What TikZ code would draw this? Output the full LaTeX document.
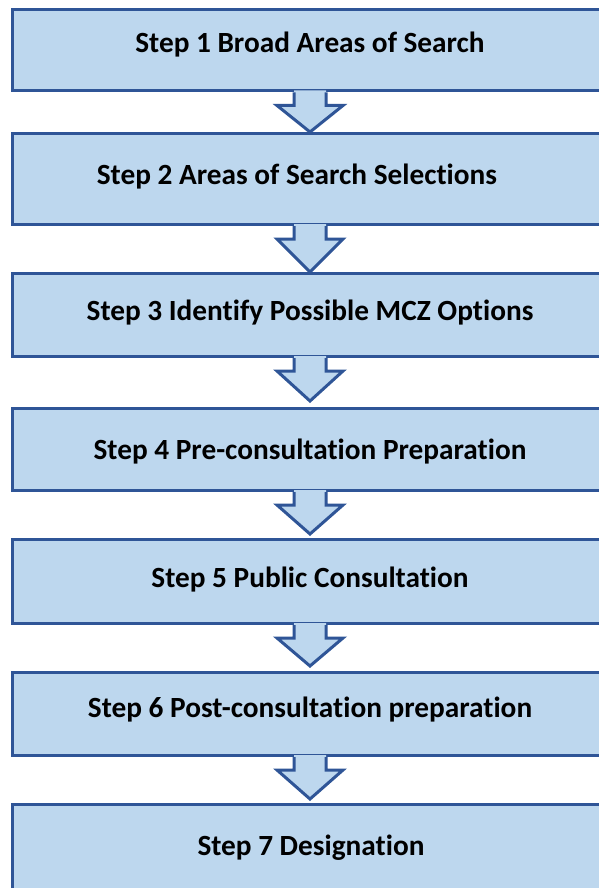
\documentclass[tikz,border=0pt]{standalone}
\usepackage{fontspec}
\setmainfont{Carlito}[Ligatures=NoCommon]
\usetikzlibrary{calc}
\definecolor{boxfill}{HTML}{BDD7EE}
\definecolor{boxline}{HTML}{2F5597}
\tikzset{
  stepbox/.style={draw=boxline, fill=boxfill, line width=3pt, anchor=north west, inner sep=0pt},
  steplabel/.style={anchor=base, font=\bfseries\fontsize{29.3}{34}\selectfont, text=black, inner sep=0pt},
}
% #1 upper box, #2 lower box, #3 gap above lower box
\newcommand\blockarr[3]{%
  \fill[boxfill] let \p1=(#1.south west), \p2=(#2.north west) in
    (\x1+283pt,\y1+2pt) -- (\x1+283pt,\y1-13pt) -- (\x1+266pt,\y1-13pt) --
    (\x1+299pt,\y2+#3) -- (\x1+332pt,\y1-13pt) -- (\x1+315pt,\y1-13pt) --
    (\x1+315pt,\y1+2pt) -- cycle;
  \draw[boxline, line width=3pt, line join=miter] let \p1=(#1.south west), \p2=(#2.north west) in
    (\x1+283pt,\y1) -- (\x1+283pt,\y1-13pt) -- (\x1+266pt,\y1-13pt) --
    (\x1+299pt,\y2+#3) -- (\x1+332pt,\y1-13pt) -- (\x1+315pt,\y1-13pt) --
    (\x1+315pt,\y1);
}
\begin{document}
\begin{tikzpicture}[x=1pt,y=-1pt]
\useasboundingbox (0,0) rectangle (599,888);
\fill[white] (0,0) rectangle (599,888);
\begin{scope}
\clip (0,0) rectangle (599,888);
\node[stepbox, minimum width=640pt, minimum height=81.5pt] (b1) at (11,8) {};
\node[stepbox, minimum width=640pt, minimum height=91pt] (b2) at (11,132) {};
\node[stepbox, minimum width=640pt, minimum height=83pt] (b3) at (11,272) {};
\node[stepbox, minimum width=640pt, minimum height=82pt] (b4) at (11,407) {};
\node[stepbox, minimum width=640pt, minimum height=84pt] (b5) at (11,538) {};
\node[stepbox, minimum width=640pt, minimum height=83pt] (b6) at (11,671) {};
\node[stepbox, minimum width=640pt, minimum height=100pt] (b7) at (11,803) {};
\blockarr{b1}{b2}{0pt}
\blockarr{b2}{b3}{0pt}
\blockarr{b3}{b4}{6pt}
\blockarr{b4}{b5}{4pt}
\blockarr{b5}{b6}{5pt}
\blockarr{b6}{b7}{4pt}
\end{scope}
\node[steplabel] (t1) at (310,52.5) {Step 1 Broad Areas of Search};
\node[steplabel] (t2) at (297,184.5) {Step 2 Areas of Search Selections};
\node[steplabel] (t3) at (310,320) {Step 3 Identify Possible MCZ Options};
\node[steplabel] (t4) at (310,459) {Step 4 Pre-consultation Preparation};
\node[steplabel] (t5) at (310,587) {Step 5 Public Consultation};
\node[steplabel] (t6) at (310,717) {Step 6 Post-consultation preparation};
\node[steplabel] (t7) at (311,855) {Step 7 Designation};
\end{tikzpicture}
\end{document}
